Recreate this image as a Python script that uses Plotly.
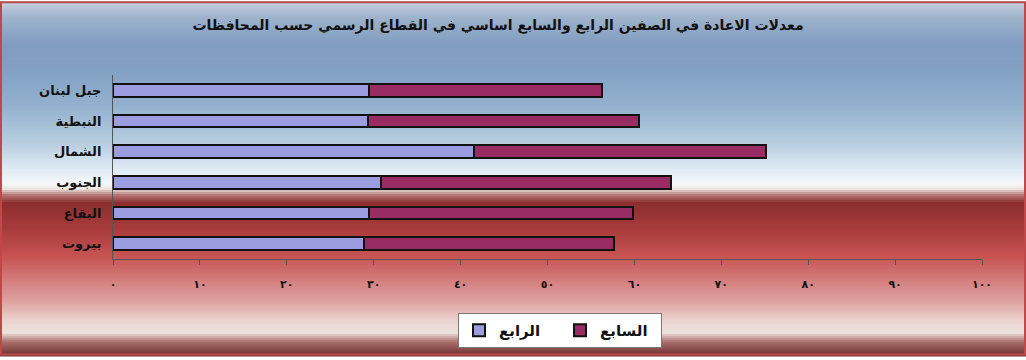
import plotly.graph_objects as go

# governorates, bottom to top
governorates = ["بيروت", "البقاع", "الجنوب", "الشمال", "النبطية", "جبل لبنان"]
grade4 = [28.9, 29.5, 30.8, 41.5, 29.3, 29.5]
grade7 = [28.8, 30.3, 33.4, 33.6, 31.2, 26.8]

tick_vals = [0, 10, 20, 30, 40, 50, 60, 70, 80, 90, 100]
tick_text = ["٠", "١٠", "٢٠", "٣٠", "٤٠", "٥٠", "٦٠", "٧٠", "٨٠", "٩٠", "١٠٠"]

TITLE = "معدلات الاعادة في الصفين الرابع والسابع اساسي في القطاع الرسمي حسب المحافظات"

W, H = 1026, 360
L, R, T, B = 113, 44, 75, 98
FONT = "DejaVu Sans"

# background gradient stops (pixel row, colour)
bg_stops = [
    (0, (200, 212, 226)), (15, (160, 180, 204)), (45, (128, 156, 192)),
    (75, (132, 162, 196)), (110, (150, 180, 208)), (145, (184, 206, 224)),
    (170, (222, 234, 244)), (186, (246, 248, 250)), (191, (236, 226, 222)),
    (197, (180, 120, 118)), (205, (140, 46, 46)), (230, (166, 58, 58)),
    (260, (200, 84, 84)), (285, (212, 128, 128)), (305, (222, 162, 160)),
    (325, (236, 212, 208)), (337, (238, 226, 222)), (346, (170, 112, 110)),
    (360, (110, 48, 48)),
]


def bg_colour(py):
    for (y0, c0), (y1, c1) in zip(bg_stops, bg_stops[1:]):
        if y0 <= py <= y1:
            t = (py - y0) / (y1 - y0) if y1 > y0 else 0
            return "rgb(%d,%d,%d)" % tuple(round(a + (b - a) * t) for a, b in zip(c0, c1))
    return "rgb(%d,%d,%d)" % bg_stops[-1][1]


pw, ph = W - L - R, H - T - B


def px_x(x):
    return (x - L) / pw


def px_y(y):
    return (H - B - y) / ph


shapes = []
step = 2
for py in range(0, H, step):
    # bands overlap by a pixel so no seams show
    shapes.append(dict(type="rect", xref="paper", yref="paper",
                       x0=px_x(0), x1=px_x(W), y0=px_y(py + step + 1), y1=px_y(py),
                       fillcolor=bg_colour(py + step / 2), line=dict(width=0),
                       layer="below"))
shapes.append(dict(type="rect", xref="paper", yref="paper",
                   x0=px_x(1), x1=px_x(W - 1), y0=px_y(H - 1), y1=px_y(1),
                   line=dict(color="#c04848", width=2), fillcolor="rgba(0,0,0,0)",
                   layer="above"))

fig = go.Figure()
fig.add_trace(go.Bar(y=governorates, x=grade4, orientation="h", name="الرابع",
                     marker=dict(color="#9c9ce0", line=dict(color="#111111", width=2)),
                     width=0.42))
fig.add_trace(go.Bar(y=governorates, x=grade7, orientation="h", name="السابع",
                     marker=dict(color="#992c62", line=dict(color="#111111", width=2)),
                     width=0.42))

fig.update_layout(
    width=W, height=H,
    margin=dict(l=L, r=R, t=T, b=B),
    barmode="stack",
    paper_bgcolor="white",
    plot_bgcolor="rgba(0,0,0,0)",
    shapes=shapes,
    title=dict(text="<b>" + TITLE + "</b>", x=498 / W, xanchor="center",
               y=1 - 25 / H, yanchor="middle",
               font=dict(family=FONT, size=14, color="#111111")),
    font=dict(family=FONT, color="#111111"),
    showlegend=True,
    legend=dict(orientation="h", traceorder="normal",
                x=px_x(560), xanchor="center", y=px_y(317), yanchor="top",
                bgcolor="white", bordercolor="#777777", borderwidth=1,
                font=dict(family=FONT, size=15, color="#111111", weight="bold"),
                itemwidth=30, entrywidth=56),
)

fig.update_xaxes(range=[0, 100], tickvals=tick_vals, ticktext=tick_text,
                 showgrid=False, zeroline=False, showline=True, linecolor="#555555",
                 ticks="outside", ticklen=5, tickcolor="#555555", ticklabelstandoff=10,
                 tickfont=dict(family=FONT, size=11, color="#111111", weight="bold"))
fig.update_yaxes(showgrid=False, zeroline=False, showline=True, linecolor="#555555",
                 ticks="", ticklabelstandoff=8,
                 tickfont=dict(family=FONT, size=13, color="#111111", weight="bold"))

fig.write_html("out.html", config={"displayModeBar": False},
               post_script="document.body.style.margin='0';document.body.style.overflow='hidden';")
